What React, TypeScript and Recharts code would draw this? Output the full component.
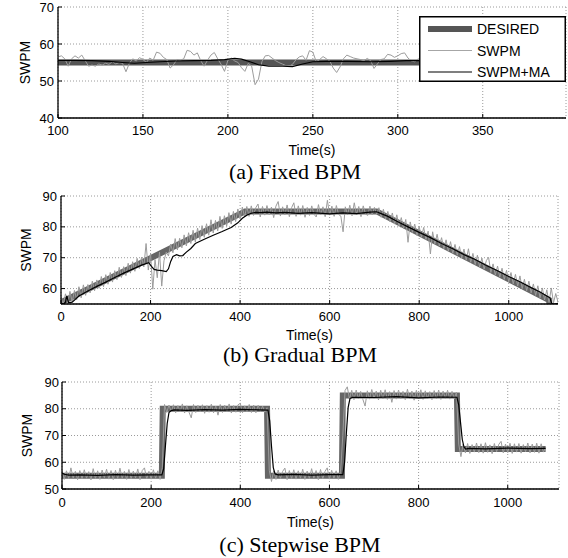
import React from 'react';
import { ComposedChart, Line, XAxis, YAxis, CartesianGrid, Legend, Label } from 'recharts';

const SANS = '"Liberation Sans", Arial, sans-serif';
const SERIF = '"Liberation Serif", "Times New Roman", serif';

// ---- (a) Fixed BPM ----
const fixedTicksX = [100, 150, 200, 250, 300, 350];
const fixedTicksY = [40, 50, 60, 70];
const fixedDesiredTime = [100, 399];
const fixedDesiredBpm = [55, 55];
// SWPM sampled every 2 s starting at t=100
const fixedSwpmStart = 100;
const fixedSwpmStep = 2;
const fixedSwpm = [
  56.5, 56.8, 56.0, 54.0, 56.0, 56.8, 56.2, 57.0, 55.5, 54.0, // 100
  54.3, 54.0, 54.6, 54.3, 54.8, 54.5, 55.2, 54.6, 55.0, 54.8, // 120
  52.5, 54.8, 56.0, 55.4, 56.3, 55.8, 55.0, 56.2, 55.6, 57.8, // 140
  57.5, 56.4, 55.8, 53.5, 54.4, 55.8, 55.6, 56.0, 58.3, 58.0, // 160
  57.0, 57.6, 55.5, 54.0, 55.6, 57.0, 57.7, 56.0, 54.5, 52.6, // 180
  55.6, 56.2, 55.4, 55.0, 53.6, 52.6, 54.8, 54.0, 49.0, 50.5, // 200
  55.2, 56.8, 56.9, 56.2, 55.5, 55.0, 54.6, 54.2, 54.0, 54.5, // 220
  55.7, 56.5, 56.8, 55.6, 58.2, 57.8, 55.2, 55.8, 56.6, 56.0, // 240
  55.4, 53.5, 52.3, 53.8, 56.0, 57.0, 56.6, 56.2, 56.0, 55.8, // 260
  55.5, 56.1, 55.5, 53.4, 54.6, 55.8, 56.0, 57.2, 57.0, 56.4, // 280
  56.8, 57.4, 57.6, 56.2, 55.4, 55.2, 56.0, 55.6, 56.4, 55.2, // 300
  54.8, 56.0, 55.5, 56.6, 55.0, 54.6, 55.8, 56.2, 55.4, 56.8, // 320
  55.6, 54.4, 55.2, 56.0, 55.8, 56.4, 55.0, 54.8, 55.9, 56.6, // 340
  55.3, 54.9, 55.8, 56.3, 55.1, 54.6, 55.7, 56.5, 55.9, 55.2, // 360
  54.7, 55.6, 56.2, 55.5, 54.9, 55.8, 56.4, 55.6, 55.0, 55.4, // 380
];
const fixedMaTime = [100, 110, 120, 130, 138, 145, 152, 160, 170, 180, 190, 198, 204, 208, 213, 218, 224, 232, 238, 244, 250, 258, 270, 285, 295, 305, 320, 340, 360, 380, 399];
const fixedMaBpm = [55.6, 55.6, 55.5, 55.3, 55.0, 54.8, 55.0, 55.2, 55.4, 55.5, 55.6, 55.8, 56.1, 55.9, 55.2, 54.4, 54.0, 54.0, 53.9, 54.6, 55.2, 55.3, 55.3, 55.2, 55.3, 55.5, 55.5, 55.5, 55.4, 55.5, 55.5];

// ---- (b) Gradual BPM ----
const gradualTicksX = [0, 200, 400, 600, 800, 1000];
const gradualTicksY = [60, 70, 80, 90];
const gradualDesiredTime = [0, 411, 705, 1090, 1092, 1110];
const gradualDesiredBpm = [55.5, 85, 85, 56.3, 53, 53];
// SWPM sampled every 5 s starting at t=0
const gradualSwpmStart = 0;
const gradualSwpmStep = 5;
const gradualSwpm = [
  57.4, 54.8, 58.3, 55.2, 59.1, 55.6, 59.4, 56.4, 60.6, 57.0, // 0
  61.2, 57.8, 61.3, 58.6, 62.4, 59.3, 62.8, 60.1, 63.9, 60.6, // 50
  64.5, 61.4, 65.2, 62.1, 65.8, 62.9, 66.9, 63.6, 67.1, 64.2, // 100
  68.2, 65.0, 68.7, 65.6, 69.8, 66.5, 70.2, 67.0, 74.6, 66.0, // 150
  71.4, 59.8, 69.4, 63.5, 71.8, 60.8, 69.0, 71.8, 70.6, 74.4, // 200
  71.6, 76.2, 72.5, 76.3, 73.2, 77.4, 73.8, 78.1, 74.6, 78.9, // 250
  75.1, 79.6, 75.9, 80.4, 76.6, 81.0, 77.3, 82.3, 78.0, 82.1, // 300
  78.7, 83.4, 79.5, 83.6, 80.2, 84.6, 80.9, 85.0, 81.7, 85.8, // 350
  82.6, 86.4, 83.3, // 400
  86.6, 83.4, 86.8, 83.7, 86.2, 87.4, 83.2, 86.6, 83.8, 86.9, // 415
  83.9, 86.4, 83.0, 86.7, 88.2, 83.5, 86.5, 83.9, 87.1, 83.3, // 465
  86.2, 87.8, 83.4, 86.8, 83.8, 86.9, 83.1, 86.3, 83.7, 86.8, // 515
  84.1, 83.2, 87.2, 83.9, 86.5, 83.3, 88.6, 83.8, 86.7, 83.4, // 565
  86.9, 84.0, 83.5, 78.4, 86.5, 83.9, 87.0, 83.6, 87.8, 84.0, // 615
  86.6, 83.3, 86.8, 84.2, 83.7, 86.7, 83.9, 86.3, 84.1, // 665
  86.2, 83.1, 85.7, 82.6, 85.0, 81.6, 84.5, 80.9, 83.9, 80.2, // 710
  83.0, 79.5, 82.4, 75.0, 81.6, 78.2, 80.9, 77.2, 80.1, 76.6, // 760
  79.8, 75.9, 78.6, 71.2, 78.4, 74.5, 77.6, 73.8, 76.5, 72.9, // 810
  75.8, 72.1, 75.2, 71.4, 74.3, 70.8, 73.6, 69.9, 72.8, 69.2, // 860
  72.9, 68.5, 71.4, 67.8, 70.8, 67.0, 69.9, 66.3, 69.1, 70.1, // 910
  65.2, 68.0, 64.4, 67.3, 63.7, 66.6, 63.0, 65.9, 62.2, 65.2, // 960
  61.5, 64.6, 60.8, 64.1, 60.0, 63.0, 59.3, 62.4, 58.6, 61.5, // 1010
  57.8, 60.9, 57.0, 60.2, 56.3, 59.6, 55.5, 60.2, 55.4, 58.4, // 1060
  55.6, // 1110
];
const gradualMaTime = [0, 6, 10, 13, 17, 25, 40, 60, 80, 100, 120, 140, 160, 180, 190, 196, 202, 208, 215, 225, 235, 240, 245, 250, 258, 265, 272, 280, 290, 300, 320, 340, 360, 380, 395, 405, 415, 425, 435, 445, 460, 480, 500, 530, 560, 600, 630, 660, 690, 705, 715, 730, 750, 775, 800, 825, 850, 875, 900, 925, 950, 975, 1000, 1025, 1050, 1070, 1085, 1092, 1096, 1100, 1110];
const gradualMaBpm = [55.3, 55.0, 55.6, 57.6, 55.4, 55.6, 57.6, 59.2, 60.7, 62.1, 63.6, 65.0, 66.3, 67.6, 68.1, 68.4, 67.2, 66.2, 66.0, 65.8, 65.5, 66.4, 68.8, 70.4, 71.0, 70.6, 70.7, 71.8, 73.0, 74.6, 76.0, 77.3, 78.5, 79.8, 81.3, 82.8, 83.8, 84.4, 84.7, 84.6, 84.8, 84.5, 84.7, 84.4, 84.6, 84.2, 84.5, 84.3, 84.8, 84.9, 84.3, 83.4, 81.8, 80.0, 78.2, 76.5, 74.6, 72.9, 71.0, 69.4, 67.5, 65.8, 63.9, 62.2, 60.3, 58.9, 57.6, 57.0, 55.2, 55.0, 55.2];

// ---- (c) Stepwise BPM ----
const stepTicksX = [0, 200, 400, 600, 800, 1000];
const stepTicksY = [50, 60, 70, 80, 90];
const stepDesiredTime = [0, 224, 226, 460, 462, 628, 630, 886, 888, 1085];
const stepDesiredBpm = [55, 55, 80, 80, 55, 55, 85, 85, 65, 65];
// SWPM sampled every 5 s starting at t=0
const stepSwpmStart = 0;
const stepSwpmStep = 5;
const stepSwpm = [
  57.0, 53.6, 56.8, 53.9, 57.9, 54.1, 56.6, 53.5, 56.9, 53.8, // 0
  57.2, 54.0, 56.5, 53.4, 57.6, 53.9, 56.8, 53.6, 57.1, 54.2, // 50
  57.4, 53.7, 56.9, 53.5, 57.0, 53.9, 57.8, 54.0, 56.6, 53.6, // 100
  57.3, 53.8, 56.7, 54.1, 57.5, 53.5, 56.9, 57.9, 53.8, 56.6, // 150
  53.7, 57.2, 54.0, 56.8, 53.6, // 200
  58.0, 81.6, 78.6, 81.4, 78.8, 81.5, 78.5, 81.2, 78.9, 81.8, // 225
  78.4, 81.1, 78.7, 76.6, 81.6, 78.6, 81.3, 78.8, 81.5, 78.3, // 275
  81.2, 78.7, 81.7, 78.5, 81.0, 77.6, 81.6, 78.6, 81.3, 78.9, // 325
  81.8, 78.4, 81.2, 78.7, 81.5, 82.0, 78.5, 81.1, 78.8, 81.6, // 375
  78.6, 81.4, 78.5, 81.3, 78.9, 81.0, 78.7, 80.4, 57.0, 52.8, // 425
  56.8, 53.6, 57.1, 53.9, 56.6, 57.8, 53.5, 56.9, 53.8, 57.2, // 475
  53.7, 56.8, 54.0, 57.4, 53.6, 56.7, 53.9, 57.6, 54.1, 56.9, // 525
  53.5, 57.3, 53.8, 56.6, 57.9, 53.7, 57.0, 54.0, 56.8, 53.6, // 575
  56.5, 70.0, // 625
  86.8, 88.2, 83.6, 86.9, 83.4, 87.0, 83.8, 86.5, 83.5, 81.0, // 635
  86.7, 83.6, 87.2, 83.9, 86.6, 83.3, 86.9, 83.7, 87.1, 83.5, // 685
  86.4, 82.4, 86.8, 83.6, 87.0, 83.8, 86.5, 83.4, 87.3, 83.7, // 735
  86.6, 83.2, 86.9, 83.8, 87.1, 83.5, 86.7, 83.9, 86.4, 83.4, // 785
  86.8, 83.7, 87.0, 83.5, 86.6, 83.9, 86.9, 83.6, 86.5, 83.8, // 835
  86.2, 66.8, // 885
  62.1, 66.8, 63.5, 67.0, 63.3, 66.6, 63.8, 67.2, 63.6, 66.9, // 895
  63.4, 67.3, 63.7, 66.5, 63.2, 67.0, 63.9, 66.7, 67.8, 63.5, // 945
  66.8, 63.6, 67.1, 63.3, 66.9, 63.8, 67.0, 63.4, 66.6, 63.9, // 995
  67.2, 63.5, 66.8, 63.7, 67.1, 63.4, 66.9, 63.8, 65.5, // 1045
];
const stepMaTime = [0, 5, 15, 40, 80, 120, 160, 200, 224, 228, 232, 236, 240, 245, 252, 280, 320, 360, 400, 440, 462, 466, 470, 474, 478, 485, 520, 560, 600, 630, 634, 638, 642, 646, 652, 700, 750, 800, 850, 886, 890, 894, 898, 902, 906, 912, 950, 1000, 1050, 1085];
const stepMaBpm = [56.0, 55.5, 55.2, 55.3, 55.1, 55.4, 55.2, 55.3, 55.3, 57.5, 66.0, 74.5, 78.6, 79.3, 79.6, 79.4, 79.7, 79.5, 79.8, 79.6, 79.5, 75.5, 66.0, 58.0, 55.6, 55.3, 55.5, 55.2, 55.4, 55.4, 60.0, 71.0, 80.5, 83.8, 84.3, 84.2, 84.5, 84.1, 84.4, 84.3, 81.5, 75.0, 68.5, 65.6, 64.9, 65.2, 65.0, 65.3, 65.1, 65.2];

const legendNames = ['DESIRED', 'SWPM', 'SWPM+MA'];
const legendColors = ['#555555', '#a6a6a6', '#000000'];
const legendWidths = [6, 1, 1.2];

type Pt = { t: number; v: number };
const zip = (times: number[], values: number[]): Pt[] => times.map((t, i) => ({ t, v: values[i] }));
const sampled = (start: number, step: number, values: number[]): Pt[] =>
  values.map((v, i) => ({ t: start + i * step, v }));

function FixedLegend() {
  return (
    <svg width={147} height={66} style={{ display: 'block' }}>
      <rect x={0.75} y={0.75} width={145.5} height={64.5} fill="#fff" stroke="#000" strokeWidth={1.5} />
      {legendNames.map((name, i) => {
        const y = 13 + i * 21.5;
        return (
          <g key={name}>
            <line x1={9} x2={53} y1={y} y2={y} stroke={legendColors[i]} strokeWidth={legendWidths[i]} />
            <text x={58} y={y} dominantBaseline="central" fontSize={14} fontFamily={SANS} fill="#000">
              {name}
            </text>
          </g>
        );
      })}
    </svg>
  );
}

type PanelProps = {
  top: number;
  height: number;
  margin: { top: number; right: number; bottom: number; left: number };
  yAxisWidth: number;
  xAxisHeight: number;
  xDomain: [number, number];
  yDomain: [number, number];
  xTicks: number[];
  yTicks: number[];
  xTickMargin: number;
  yTickMargin: number;
  labelOffset: number;
  desired: Pt[];
  swpm: Pt[];
  ma: Pt[];
  desiredColor: string;
  withLegend?: boolean;
};

function Panel(p: PanelProps) {
  const tickStyle = { fill: '#000', fontSize: 13, fontFamily: SANS };
  const axisLine = { stroke: '#000', strokeWidth: 1.3 };
  const tickLine = { stroke: '#000', strokeWidth: 1 };
  return (
    <div style={{ position: 'absolute', left: 0, top: p.top }}>
      <ComposedChart width={568} height={p.height} margin={p.margin}>
        <CartesianGrid stroke="#808080" strokeDasharray="1 2" strokeWidth={0.8} />
        <XAxis
          type="number"
          dataKey="t"
          domain={p.xDomain}
          ticks={p.xTicks}
          interval={0}
          allowDataOverflow
          height={p.xAxisHeight}
          tickSize={-4}
          tickMargin={p.xTickMargin}
          axisLine={axisLine}
          tickLine={tickLine}
          tick={tickStyle}
        >
          <Label value="Time(s)" position="insideBottom" offset={0} style={{ fill: '#000', fontSize: 14, fontFamily: SANS }} />
        </XAxis>
        <XAxis
          xAxisId="top"
          orientation="top"
          type="number"
          domain={p.xDomain}
          ticks={p.xTicks}
          interval={0}
          allowDataOverflow
          height={0}
          tick={false}
          tickSize={-4}
          axisLine={axisLine}
          tickLine={tickLine}
        />
        <YAxis
          type="number"
          domain={p.yDomain}
          ticks={p.yTicks}
          interval={0}
          allowDataOverflow
          width={p.yAxisWidth}
          tickSize={-4}
          tickMargin={p.yTickMargin}
          axisLine={axisLine}
          tickLine={tickLine}
          tick={tickStyle}
        >
          <Label
            value="SWPM"
            angle={-90}
            position="insideLeft"
            offset={p.labelOffset}
            style={{ fill: '#000', fontSize: 14, fontFamily: SANS, textAnchor: 'middle' }}
          />
        </YAxis>
        <YAxis
          yAxisId="right"
          orientation="right"
          type="number"
          domain={p.yDomain}
          ticks={p.yTicks}
          interval={0}
          allowDataOverflow
          width={0}
          tick={false}
          tickSize={-4}
          axisLine={axisLine}
          tickLine={tickLine}
        />
        <Line data={p.desired} dataKey="v" name="DESIRED" stroke={p.desiredColor} strokeWidth={6} dot={false} activeDot={false} isAnimationActive={false} />
        <Line data={p.swpm} dataKey="v" name="SWPM" stroke="#9c9c9c" strokeWidth={1} dot={false} activeDot={false} isAnimationActive={false} />
        <Line data={p.ma} dataKey="v" name="SWPM+MA" stroke="#000" strokeWidth={1.2} dot={false} activeDot={false} isAnimationActive={false} />
        {p.withLegend && (
          <Legend
            layout="vertical"
            align="center"
            verticalAlign="middle"
            wrapperStyle={{ left: 419, top: 16, width: 147, height: 66 }}
            content={() => <FixedLegend />}
          />
        )}
      </ComposedChart>
    </div>
  );
}

function Caption({ text, cx, top }: { text: string; cx: number; top: number }) {
  return (
    <div
      style={{
        position: 'absolute',
        left: cx - 150,
        top,
        width: 300,
        textAlign: 'center',
        fontFamily: SERIF,
        fontSize: 22,
        lineHeight: '24px',
        color: '#000',
        whiteSpace: 'nowrap',
      }}
    >
      {text}
    </div>
  );
}

export default function App() {
  return (
    <div style={{ position: 'absolute', left: 0, top: 0, width: 568, height: 558, background: '#fff', overflow: 'hidden' }}>
      <Panel
        top={0}
        height={161}
        margin={{ top: 7, right: 2, bottom: 6, left: 0 }}
        yAxisWidth={58}
        xAxisHeight={37}
        xDomain={[100, 399]}
        yDomain={[40, 70]}
        xTicks={fixedTicksX}
        yTicks={fixedTicksY}
        xTickMargin={12}
        yTickMargin={8}
        labelOffset={25}
        desired={zip(fixedDesiredTime, fixedDesiredBpm)}
        swpm={sampled(fixedSwpmStart, fixedSwpmStep, fixedSwpm)}
        ma={zip(fixedMaTime, fixedMaBpm)}
        desiredColor="#555555"
        withLegend
      />
      <Caption text="(a) Fixed BPM" cx={295} top={160} />
      <Panel
        top={170}
        height={176}
        margin={{ top: 26, right: 10, bottom: 6, left: 0 }}
        yAxisWidth={61}
        xAxisHeight={36}
        xDomain={[0, 1110]}
        yDomain={[55, 90]}
        xTicks={gradualTicksX}
        yTicks={gradualTicksY}
        xTickMargin={12}
        yTickMargin={8}
        labelOffset={26}
        desired={zip(gradualDesiredTime, gradualDesiredBpm)}
        swpm={sampled(gradualSwpmStart, gradualSwpmStep, gradualSwpm)}
        ma={zip(gradualMaTime, gradualMaBpm)}
        desiredColor="#666666"
      />
      <Caption text="(b) Gradual BPM" cx={300} top={343} />
      <Panel
        top={360}
        height={173}
        margin={{ top: 22, right: 9, bottom: 6, left: 0 }}
        yAxisWidth={62}
        xAxisHeight={38}
        xDomain={[0, 1115]}
        yDomain={[50, 90]}
        xTicks={stepTicksX}
        yTicks={stepTicksY}
        xTickMargin={13}
        yTickMargin={7}
        labelOffset={27}
        desired={zip(stepDesiredTime, stepDesiredBpm)}
        swpm={sampled(stepSwpmStart, stepSwpmStep, stepSwpm)}
        ma={zip(stepMaTime, stepMaBpm)}
        desiredColor="#666666"
      />
      <Caption text="(c) Stepwise BPM" cx={300} top={533} />
    </div>
  );
}
